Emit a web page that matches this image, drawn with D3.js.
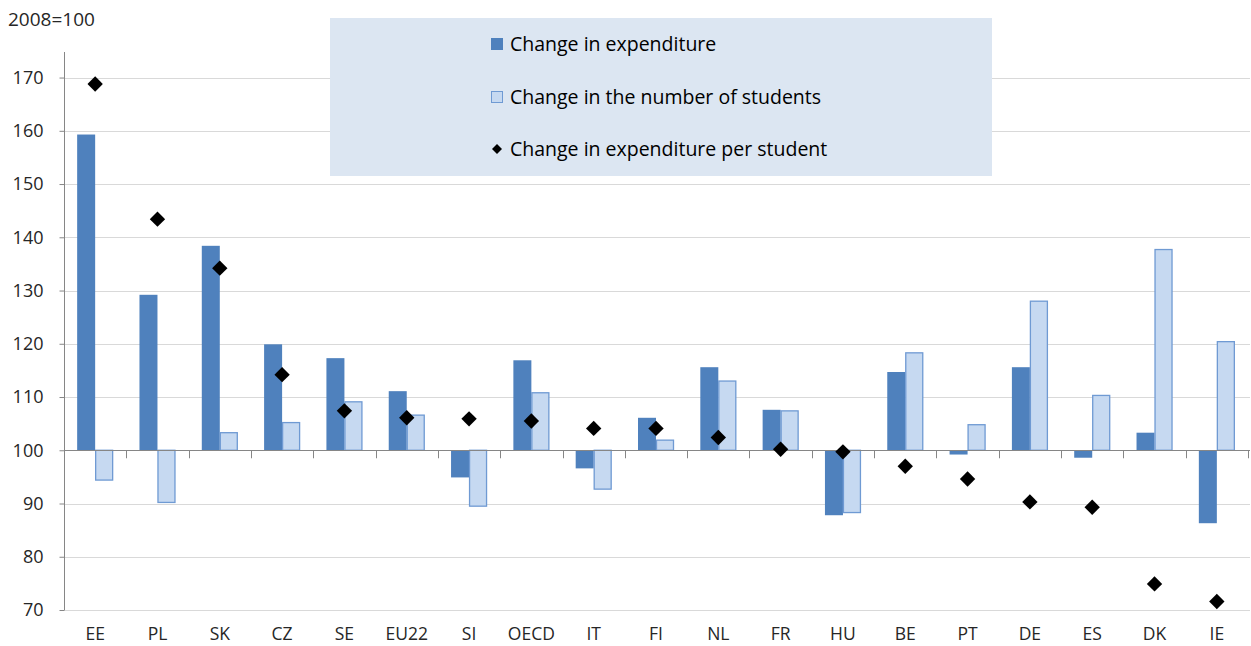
<!DOCTYPE html>
<html>
<head>
<meta charset="utf-8">
<script src="https://cdn.jsdelivr.net/npm/d3@7"></script>
<style>
  body { margin: 0; background: #fff; }
  svg { font-family: "Open Sans", "Noto Sans", sans-serif; }
</style>
</head>
<body>
<svg id="chart" width="1251" height="646"></svg>
<script>
const countries = ["EE", "PL", "SK", "CZ", "SE", "EU22", "SI", "OECD", "IT", "FI", "NL", "FR", "HU", "BE", "PT", "DE", "ES", "DK", "IE"];
const expenditure = [159.3, 129.2, 138.4, 119.9, 117.3, 111.1, 94.9, 116.9, 96.6, 106.1, 115.6, 107.6, 87.8, 114.7, 99.2, 115.6, 98.6, 103.3, 86.3];
const students = [94.4, 90.2, 103.3, 105.2, 109.1, 106.6, 89.5, 110.8, 92.7, 101.9, 113.0, 107.4, 88.3, 118.3, 104.8, 128.0, 110.3, 137.7, 120.4];
const perStudent = [168.8, 143.4, 134.2, 114.2, 107.4, 106.1, 105.9, 105.5, 104.1, 104.1, 102.4, 100.2, 99.7, 97.0, 94.6, 90.3, 89.3, 74.9, 71.6];
const yTicks = [70, 80, 90, 100, 110, 120, 130, 140, 150, 160, 170];
const legendLabels = ["Change in expenditure", "Change in the number of students", "Change in expenditure per student"];

const svg = d3.select("#chart");
const baseline = 100;

const x = d3.scaleBand().domain(countries).range([64, 1248]).paddingInner(0).paddingOuter(0);
const y = d3.scaleLinear().domain([70, 174.8]).range([610, 52]);
const barW = 18;

// gridlines
svg.append("g")
  .selectAll("line")
  .data(yTicks)
  .join("line")
  .attr("x1", 64).attr("x2", 1250)
  .attr("y1", d => Math.round(y(d)) + 0.5).attr("y2", d => Math.round(y(d)) + 0.5)
  .attr("stroke", "#d9d9d9").attr("stroke-width", 1);

// y axis
const yAxis = svg.append("g")
  .attr("transform", "translate(64.5,0)")
  .call(d3.axisLeft(y).tickValues(yTicks).tickSize(5).tickPadding(16));
yAxis.select(".domain").attr("stroke", "#868686").attr("d", `M0,${y(174.8)}V${y(70)}`);
yAxis.selectAll(".tick line").attr("stroke", "#868686");
yAxis.selectAll(".tick text").attr("font-size", 18).attr("fill", "#262626").attr("font-family", "Open Sans, sans-serif");

// bars
const expColor = "#4f81bd";
const stuFill = "#c6d9f1";
const stuStroke = "#6f9ad3";

svg.append("g")
  .selectAll("rect")
  .data(countries.map((c, i) => ({ c, v: expenditure[i] })))
  .join("rect")
  .attr("x", d => x(d.c) + x.bandwidth() / 2 - barW)
  .attr("width", barW)
  .attr("y", d => y(Math.max(d.v, baseline)))
  .attr("height", d => Math.abs(y(d.v) - y(baseline)))
  .attr("fill", expColor);

svg.append("g")
  .selectAll("rect")
  .data(countries.map((c, i) => ({ c, v: students[i] })))
  .join("rect")
  .attr("x", d => x(d.c) + x.bandwidth() / 2 + 0.5)
  .attr("width", barW - 1)
  .attr("y", d => y(Math.max(d.v, baseline)))
  .attr("height", d => Math.abs(y(d.v) - y(baseline)))
  .attr("fill", stuFill)
  .attr("stroke", stuStroke)
  .attr("stroke-width", 1.3);

// category axis at 100
const xAxis = svg.append("g")
  .attr("transform", `translate(0,${Math.round(y(baseline)) + 0.5})`)
  .call(d3.axisBottom(x).tickSize(0).tickFormat(""));
xAxis.select(".domain").attr("stroke", "#868686").attr("d", `M64,0H1250`);
svg.append("g")
  .selectAll("line")
  .data(countries.slice(1).concat(["_end"]))
  .join("line")
  .attr("x1", (d, i) => Math.round(x.range()[0] + x.bandwidth() * (i + 1)) + 0.5)
  .attr("x2", (d, i) => Math.round(x.range()[0] + x.bandwidth() * (i + 1)) + 0.5)
  .attr("y1", y(baseline)).attr("y2", y(baseline) + 8)
  .attr("stroke", "#868686");

// category labels at bottom
svg.append("g")
  .selectAll("text")
  .data(countries)
  .join("text")
  .attr("x", d => x(d) + x.bandwidth() / 2)
  .attr("y", 640)
  .attr("text-anchor", "middle")
  .attr("font-size", 17.5)
  .attr("fill", "#262626")
  .text(d => d);

// diamonds
const diamond = d3.symbol().type(d3.symbolSquare).size(118);
svg.append("g")
  .selectAll("path")
  .data(countries.map((c, i) => ({ c, v: perStudent[i] })))
  .join("path")
  .attr("d", diamond)
  .attr("transform", d => `translate(${x(d.c) + x.bandwidth() / 2},${y(d.v)}) rotate(45)`)
  .attr("fill", "#000");

// unit label
svg.append("text")
  .attr("x", 8).attr("y", 26)
  .attr("font-size", 19).attr("fill", "#262626")
  .text("2008=100");

// legend
const lg = svg.append("g");
lg.append("rect")
  .attr("x", 330).attr("y", 18).attr("width", 662).attr("height", 158)
  .attr("fill", "#dce6f2");
const rowY = [44, 97, 149];
legendLabels.forEach((t, i) => {
  const g = lg.append("g").attr("transform", `translate(491,${rowY[i]})`);
  if (i === 0) {
    g.append("rect").attr("x", 0).attr("y", -6).attr("width", 12).attr("height", 12).attr("fill", expColor);
  } else if (i === 1) {
    g.append("rect").attr("x", 0.5).attr("y", -5.5).attr("width", 11).attr("height", 11)
      .attr("fill", stuFill).attr("stroke", stuStroke);
  } else {
    g.append("path").attr("d", d3.symbol().type(d3.symbolSquare).size(50)())
      .attr("transform", "translate(6,0) rotate(45)").attr("fill", "#000");
  }
  g.append("text").attr("x", 19).attr("y", 7).attr("font-size", 19.5).attr("fill", "#000").text(t);
});
</script>
</body>
</html>
